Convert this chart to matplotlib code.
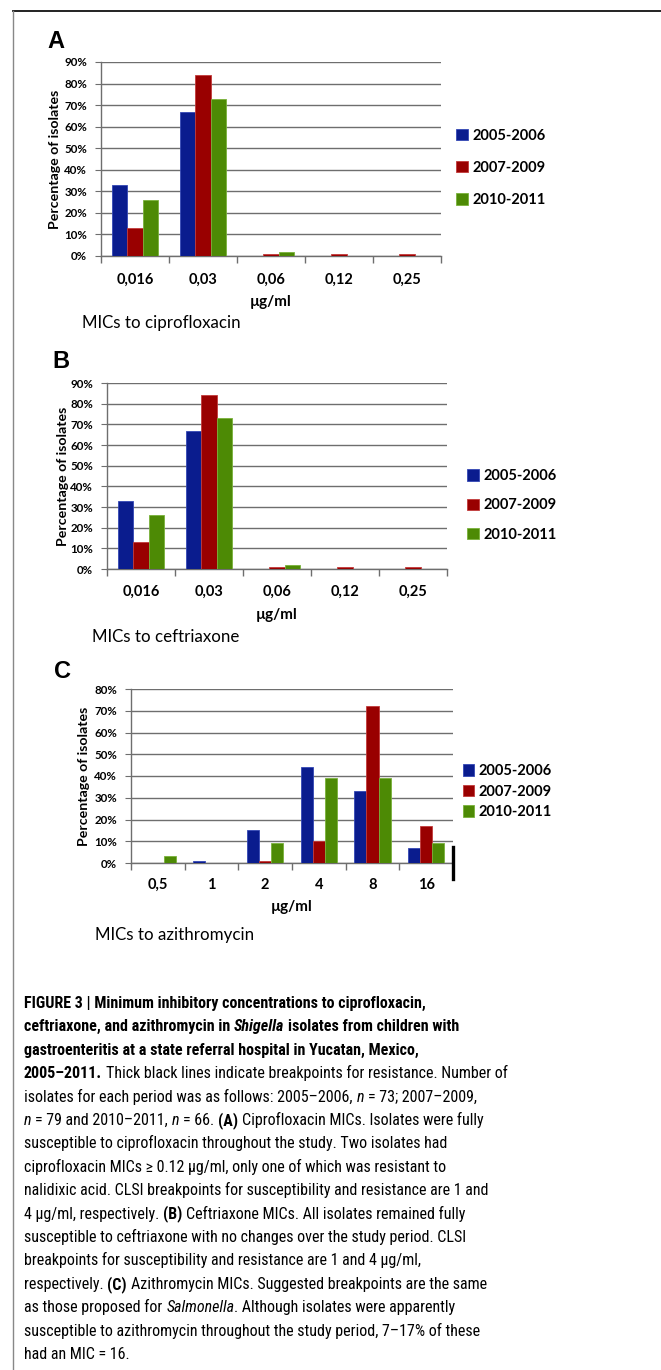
import matplotlib
matplotlib.use("Agg")
import matplotlib.pyplot as plt
import numpy as np
from matplotlib import font_manager, ft2font
from matplotlib.font_manager import FontProperties
from matplotlib.lines import Line2D

# ---------------- data ----------------
series_labels = ["2005-2006", "2007-2009", "2010-2011"]
cipro_cats = ["0,016", "0,03", "0,06", "0,12", "0,25"]
cipro_2005 = [33, 67, 0, 0, 0]
cipro_2007 = [13, 84, 1, 1, 1]
cipro_2010 = [26, 73, 2, 0, 0]

ceft_cats = ["0,016", "0,03", "0,06", "0,12", "0,25"]
ceft_2005 = [33, 67, 0, 0, 0]
ceft_2007 = [13, 84, 1, 1, 1]
ceft_2010 = [26, 73, 2, 0, 0]

azi_cats = ["0,5", "1", "2", "4", "8", "16"]
azi_2005 = [0, 1, 15, 44, 33, 7]
azi_2007 = [0, 0, 1, 10, 72, 17]
azi_2010 = [3, 0, 9, 39, 39, 9]

colors = ["#0a1c8e", "#990000", "#4d8a05"]
edge_colors = ["#3347b5", "#c23a3a", "#79b23a"]

ttf = font_manager.fontManager.ttflist
names = {f.name for f in ttf}
CHART_FONT = "Lato" if "Lato" in names else "DejaVu Sans"
LET_FONT = "Liberation Sans"


def wnum(w):
    if isinstance(w, str):
        return font_manager.weight_dict.get(w, 400)
    return w


COND = ("condensed", "semi-condensed", "extra-condensed", "ultra-condensed")


def pick_caption_fonts():
    cands = [("Liberation Sans Narrow", None), ("Roboto Condensed", None),
             ("Open Sans Condensed", None), ("Noto Sans", COND), ("Open Sans", COND),
             ("Roboto", None), ("Liberation Sans", None)]
    for name, st in cands:
        fam = [f for f in ttf if f.name == name and (st is None or f.stretch in st)]
        if st is None and name in ("Roboto", "Liberation Sans"):
            fam = [f for f in fam if f.stretch == "normal"] or fam
        if not fam:
            continue
        out = {}
        for key, bold, ital in [("R", False, False), ("B", True, False),
                                ("I", False, True), ("BI", True, True)]:
            best = None
            for f in fam:
                isi = f.style != "normal"
                score = abs(wnum(f.weight) - (700 if bold else 400)) + (0 if isi == ital else 1000)
                if best is None or score < best[0]:
                    best = (score, f.fname)
            out[key] = best[1]
        return out
    fb = font_manager.findfont("DejaVu Sans")
    return {"R": fb, "B": fb, "I": fb, "BI": fb}


CAP_FILES = pick_caption_fonts()

W, H = 661, 1370
fig = plt.figure(figsize=(W / 100, H / 100), dpi=100)
fig.patch.set_facecolor("white")


def fx(px):
    return px / W


def fy(py):
    return 1 - py / H


def panel(left, right, top, bottom, cats, vals, ymax, leg_x, leg_y, leg_sp,
          ylab_x, tick_pad, xlab_y, bp=None):
    ax = fig.add_axes([fx(left), fy(bottom), fx(right - left), (bottom - top) / H])
    n = len(cats)
    x = np.arange(n)
    w = 0.225
    for i, (v, c, ec, lab) in enumerate(zip(vals, colors, edge_colors, series_labels)):
        ax.bar(x + (i - 1) * w, v, width=w, color=c, label=lab, zorder=3,
               edgecolor=ec, linewidth=0.6)
    ax.set_xlim(-0.5, n - 0.5)
    ax.set_ylim(0, ymax)
    ax.set_yticks(np.arange(0, ymax + 1, 10))
    ax.set_yticklabels([f"{t}%" for t in range(0, ymax + 1, 10)],
                       fontfamily=CHART_FONT, fontweight="bold", fontsize=8.3)
    ax.yaxis.grid(True, color="#6e6e6e", lw=1.0, zorder=1)
    ax.set_axisbelow(True)
    for s in ["top", "right"]:
        ax.spines[s].set_visible(False)
    for s in ["left", "bottom"]:
        ax.spines[s].set_color("#6e6e6e")
        ax.spines[s].set_linewidth(1.0)
    ax.tick_params(axis="y", length=4, color="#6e6e6e", pad=6)
    ax.set_xticks(x)
    ax.set_xticklabels(cats, fontfamily=CHART_FONT, fontweight="bold", fontsize=10.5)
    ax.set_xticks(np.arange(n + 1) - 0.5, minor=True)
    ax.tick_params(axis="x", which="major", length=0, pad=tick_pad)
    ax.tick_params(axis="x", which="minor", length=5, color="#6e6e6e", width=1.0)
    ax.set_ylabel("Percentage of isolates", fontfamily=CHART_FONT,
                  fontweight="bold", fontsize=10.2)
    ax.yaxis.set_label_coords(ylab_x, 0.5)
    ax.set_xlabel("µg/ml", fontfamily=CHART_FONT, fontweight="bold", fontsize=11)
    ax.xaxis.label.set_va("center")
    ax.xaxis.set_label_coords(0.5, xlab_y)
    ax.legend(loc="center left", bbox_to_anchor=(leg_x, leg_y), frameon=False,
              prop={"family": CHART_FONT, "weight": "bold", "size": 10.5},
              handlelength=0.8, handleheight=0.85, handletextpad=0.3,
              labelspacing=leg_sp, borderpad=0, borderaxespad=0)
    if bp is not None:
        ax.axvline(bp, ymin=-0.092, ymax=0.092, color="black", lw=2.4,
                   clip_on=False, zorder=5)
    return ax


# Panel A
axA = panel(101, 441, 62, 256, cipro_cats, [cipro_2005, cipro_2007, cipro_2010], 90,
            1.045, 0.455, 1.25, -0.118, 12, -0.237)
# Panel B
axB = panel(107, 447, 383, 569, ceft_cats, [ceft_2005, ceft_2007, ceft_2010], 90,
            1.06, 0.342, 1.05, -0.112, 11.5, -0.247)
# Panel C
axC = panel(131, 453, 689, 863, azi_cats, [azi_2005, azi_2007, azi_2010], 80,
            1.03, 0.41, 0.45, -0.128, 11, -0.253, bp=len(azi_cats) - 0.5)

# panel letters and subtitles
for letter, lx, ly in [("A", 47, 42), ("B", 52, 361), ("C", 54, 671)]:
    fig.text(fx(lx), fy(ly), letter, fontfamily=LET_FONT, fontweight="bold",
             fontsize=17, va="center", ha="left")
for sub, sx, sy in [("MICs to ciprofloxacin", 82, 323), ("MICs to ceftriaxone", 92, 637),
                    ("MICs to azithromycin", 95, 935)]:
    fig.text(fx(sx), fy(sy), sub, fontfamily=CHART_FONT, fontsize=12.2,
             va="center", ha="left")

# frame lines
fig.add_artist(Line2D([fx(13), 1], [fy(11), fy(11)], color="#111111", lw=1.3))
fig.add_artist(Line2D([fx(13.5), fx(13.5)], [fy(11), 0], color="#888888", lw=1.0))

# caption
R, B, I, BI = "R", "B", "I", "BI"
caption = [
    [("FIGURE 3 | Minimum inhibitory concentrations to ciprofloxacin,", B)],
    [("ceftriaxone, and azithromycin in ", B), ("Shigella", BI), (" isolates from children with", B)],
    [("gastroenteritis at a state referral hospital in Yucatan, Mexico,", B)],
    [("2005–2011.", B), (" Thick black lines indicate breakpoints for resistance. Number of", R)],
    [("isolates for each period was as follows: 2005–2006, ", R), ("n", I), (" = 73; 2007–2009,", R)],
    [("n", I), (" = 79 and 2010–2011, ", R), ("n", I), (" = 66. ", R), ("(A)", B),
     (" Ciprofloxacin MICs. Isolates were fully", R)],
    [("susceptible to ciprofloxacin throughout the study. Two isolates had", R)],
    [("ciprofloxacin MICs ≥ 0.12 µg/ml, only one of which was resistant to", R)],
    [("nalidixic acid. CLSI breakpoints for susceptibility and resistance are 1 and", R)],
    [("4 µg/ml, respectively. ", R), ("(B)", B), (" Ceftriaxone MICs. All isolates remained fully", R)],
    [("susceptible to ceftriaxone with no changes over the study period. CLSI", R)],
    [("breakpoints for susceptibility and resistance are 1 and 4 µg/ml,", R)],
    [("respectively. ", R), ("(C)", B), (" Azithromycin MICs. Suggested breakpoints are the same", R)],
    [("as those proposed for ", R), ("Salmonella", I), (". Although isolates were apparently", R)],
    [("susceptible to azithromycin throughout the study period, 7–17% of these", R)],
    [("had an MIC = 16.", R)],
]

_NOHINT = getattr(getattr(ft2font, "LoadFlags", None), "NO_HINTING", None)
if _NOHINT is None:
    _NOHINT = getattr(ft2font, "LOAD_NO_HINTING", 2)
_fonts = {}


def ftfont(st, size):
    key = (st, size)
    if key not in _fonts:
        f = ft2font.FT2Font(CAP_FILES[st], hinting_factor=1)
        f.set_size(size, 100)
        _fonts[key] = f
    return _fonts[key]


def adv(txt, st, size):
    """Pen advance of txt in pixels (spaces included)."""
    f = ftfont(st, size)
    total = 0.0
    for ch in txt:
        g = f.load_char(ord(ch), flags=_NOHINT)
        total += g.linearHoriAdvance / 65536.0
    return total


def normalize(segs):
    # move leading spaces of a segment onto the end of the previous one
    out = []
    for txt, st in segs:
        stripped = txt.lstrip(" ")
        nlead = len(txt) - len(stripped)
        if out and nlead:
            out[-1] = (out[-1][0] + " " * nlead, out[-1][1])
        out.append((stripped if out else txt, st))
    return out


caption = [normalize(s) for s in caption]

X0, TARGET_RIGHT = 24, 508
base = 13.0
widest = max(sum(adv(t.rstrip(" ") if k == len(s) - 1 else t, st, base)
                 for k, (t, st) in enumerate(s)) for s in caption[3:])
cap_size = round(min(13.5, base * (TARGET_RIGHT - X0) / widest), 2)

for i, segs in enumerate(caption):
    yb = 1008 + 23.4 * i
    pen = X0
    for txt, st in segs:
        prop = FontProperties(fname=CAP_FILES[st], size=cap_size)
        fig.text(fx(pen), fy(yb), txt.rstrip(" "), va="baseline", ha="left",
                 fontproperties=prop)
        pen += adv(txt, st, cap_size)

fig.savefig("out.png", dpi=100, facecolor="white")
